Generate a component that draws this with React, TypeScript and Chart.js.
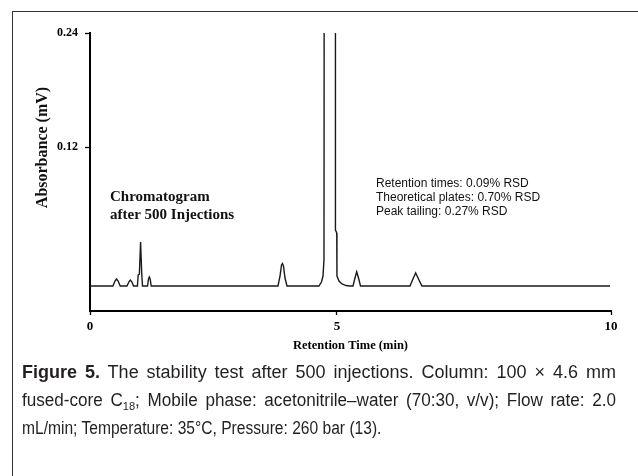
import React, { useEffect, useRef } from "react";
import { Chart, registerables } from "chart.js";

Chart.register(...registerables);

// Retention time (min) and absorbance (mV)
const TIME_MIN = [
  0, 0.44, 0.48, 0.51, 0.54, 0.58,
  0.71, 0.75, 0.775, 0.805, 0.835,
  0.91, 0.925, 0.948, 0.971, 0.994, 1.008,
  1.104, 1.123, 1.138, 1.155, 1.175,
  3.608, 3.647, 3.676, 3.695, 3.714, 3.743, 3.781,
  4.395, 4.443, 4.472, 4.491, 4.495, 4.711, 4.711, 4.736, 4.74, 4.779, 4.837, 4.914, 4.99,
  5.048, 5.086, 5.119, 5.154, 5.192,
  6.142, 6.19, 6.251, 6.305, 6.372,
  9.981,
];
const ABSORBANCE = [
  -0.0263, -0.0263, -0.0211, -0.0189, -0.0211, -0.0263,
  -0.0263, -0.0216, -0.02, -0.0221, -0.0263,
  -0.0263, -0.0147, -0.0137, 0.02, -0.0147, -0.0263,
  -0.0263, -0.0189, -0.0168, -0.0189, -0.0263,
  -0.0263, -0.0158, -0.0042, -0.0026, -0.0053, -0.0179, -0.0263,
  -0.0263, -0.0221, -0.0158, 0.0011, 0.3, 0.3, 0.0326, 0.0295, -0.0158, -0.0211, -0.0242, -0.0258, -0.0263,
  -0.0263, -0.0179, -0.0113, -0.0179, -0.0263,
  -0.0263, -0.02, -0.0126, -0.0189, -0.0263,
  -0.0263,
];

const X_TICK_VALUES = [0, 4.74, 10];
const X_TICK_LABELS = ["0", "5", "10"];
const Y_TICK_VALUES = [0.12, 0.24];
const Y_TICK_LABELS = ["0.12", "0.24"];
const Y_MIN = -0.0526;
const Y_MAX = 0.24;

const X_TITLE = "Retention Time (min)";
const Y_TITLE = "Absorbance (mV)";
const NOTE_LINES = ["Chromatogram", "after 500 Injections"];
const RSD_LINES = [
  "Retention times: 0.09% RSD",
  "Theoretical plates: 0.70% RSD",
  "Peak tailing: 0.27% RSD",
];

const CAPTION_BOLD = "Figure 5.";
const CAPTION_LINE1 = " The stability test after 500 injections. Column: 100 × 4.6 mm";
const CAPTION_LINE2_A = "fused-core C";
const CAPTION_LINE2_SUB = "18";
const CAPTION_LINE2_B = "; Mobile phase: acetonitrile–water (70:30, v/v); Flow rate: 2.0";
const CAPTION_LINE3 = "mL/min; Temperature: 35°C, Pressure: 260 bar (13).";

const SERIF = '"Liberation Serif", "Times New Roman", Times, serif';
const SANS = '"Liberation Sans", Arial, Helvetica, sans-serif';

const CAPTION_WIDTH = 594;
const LINE_SCALES = [1.0, 0.95, 0.866];

const textPlugin = {
  id: "chromTexts",
  afterDraw(chart: any) {
    const ctx = chart.ctx as CanvasRenderingContext2D;
    const a = chart.chartArea;
    ctx.save();
    ctx.fillStyle = "#111";
    ctx.textBaseline = "middle";
    ctx.textAlign = "left";
    ctx.font = `bold 15px ${SERIF}`;
    NOTE_LINES.forEach((s, i) => ctx.fillText(s, a.left + 20, a.top + 164 + i * 18));
    ctx.font = `12px ${SANS}`;
    RSD_LINES.forEach((s, i) => ctx.fillText(s, a.left + 286, a.top + 151 + i * 14));
    ctx.translate(43, 147.5);
    ctx.rotate(-Math.PI / 2);
    ctx.textAlign = "center";
    ctx.font = `bold 16px ${SERIF}`;
    ctx.fillText(Y_TITLE, 0, 0);
    ctx.restore();
  },
};

export default function App() {
  const ref = useRef<HTMLCanvasElement>(null);

  useEffect(() => {
    const points = TIME_MIN.map((t, i) => ({ x: t, y: ABSORBANCE[i] }));
    const chart = new Chart(ref.current as HTMLCanvasElement, {
      type: "line",
      data: {
        datasets: [
          {
            data: points,
            borderColor: "#1a1a1a",
            borderWidth: 1.4,
            pointRadius: 0,
            tension: 0,
            fill: false,
          },
        ],
      },
      options: {
        responsive: false,
        animation: false,
        layout: { padding: { left: 0, top: 33, right: 27, bottom: 0 } },
        plugins: { legend: { display: false }, tooltip: { enabled: false } },
        scales: {
          x: {
            type: "linear",
            min: 0,
            max: 10,
            afterBuildTicks: (scale: any) => {
              scale.ticks = X_TICK_VALUES.map((v) => ({ value: v }));
            },
            afterFit: (scale: any) => {
              scale.height = 49;
            },
            ticks: {
              callback: (_v: any, i: number) => X_TICK_LABELS[i],
              color: "#000",
              font: { family: SERIF, weight: "bold", size: 13 },
              padding: 4,
              maxRotation: 0,
            },
            grid: { drawOnChartArea: false, drawTicks: true, tickLength: 4, color: "#000", tickWidth: 1.3 },
            border: { display: true, color: "#000", width: 2 },
            title: {
              display: true,
              text: X_TITLE,
              color: "#000",
              font: { family: SERIF, weight: "bold", size: 12.5 },
              padding: { top: 0, bottom: 6.5 },
            },
          },
          y: {
            type: "linear",
            min: Y_MIN,
            max: Y_MAX,
            afterBuildTicks: (scale: any) => {
              scale.ticks = Y_TICK_VALUES.map((v) => ({ value: v }));
            },
            afterFit: (scale: any) => {
              scale.width = 90;
            },
            ticks: {
              callback: (_v: any, i: number) => Y_TICK_LABELS[i],
              color: "#000",
              font: { family: SERIF, weight: "bold", size: 12 },
              padding: 7,
            },
            grid: { drawOnChartArea: false, drawTicks: true, tickLength: 5, color: "#000", tickWidth: 1.3 },
            border: { display: true, color: "#000", width: 2 },
            title: { display: false },
          },
        },
      },
      plugins: [textPlugin],
    } as any);
    return () => chart.destroy();
  }, []);

  const lineBox = (i: number, justify: boolean): React.CSSProperties => ({
    position: "absolute",
    left: 0,
    top: i * 28,
    height: 28,
    lineHeight: "28px",
    width: justify ? CAPTION_WIDTH / LINE_SCALES[i] : undefined,
    whiteSpace: justify ? "normal" : "nowrap",
    overflow: "hidden",
    textAlign: justify ? "justify" : "left",
    textAlignLast: (justify ? "justify" : "left") as any,
    transform: `scaleX(${LINE_SCALES[i]})`,
    transformOrigin: "0 0",
  });

  return (
    <div
      style={{
        position: "absolute",
        left: 0,
        top: 0,
        width: 638,
        height: 476,
        background: "#fff",
        overflow: "hidden",
      }}
    >
      <div
        style={{
          position: "absolute",
          left: 12,
          top: 11,
          width: 700,
          height: 600,
          borderLeft: "1.5px solid #333",
          borderTop: "1.5px solid #333",
        }}
      />
      <div style={{ position: "absolute", left: 0, top: 0, width: 638, height: 360 }}>
        <canvas ref={ref} width={638} height={360} style={{ display: "block" }} />
      </div>
      <div
        style={{
          position: "absolute",
          left: 22,
          top: 358,
          width: CAPTION_WIDTH,
          height: 90,
          fontFamily: SANS,
          fontSize: 18,
          color: "#231f20",
        }}
      >
        <div style={lineBox(0, true)}>
          <b>{CAPTION_BOLD}</b>
          {CAPTION_LINE1}
        </div>
        <div style={lineBox(1, true)}>
          {CAPTION_LINE2_A}
          <sub style={{ fontSize: "0.65em", verticalAlign: "-0.3em", lineHeight: 0 }}>{CAPTION_LINE2_SUB}</sub>
          {CAPTION_LINE2_B}
        </div>
        <div style={lineBox(2, false)}>{CAPTION_LINE3}</div>
      </div>
    </div>
  );
}
